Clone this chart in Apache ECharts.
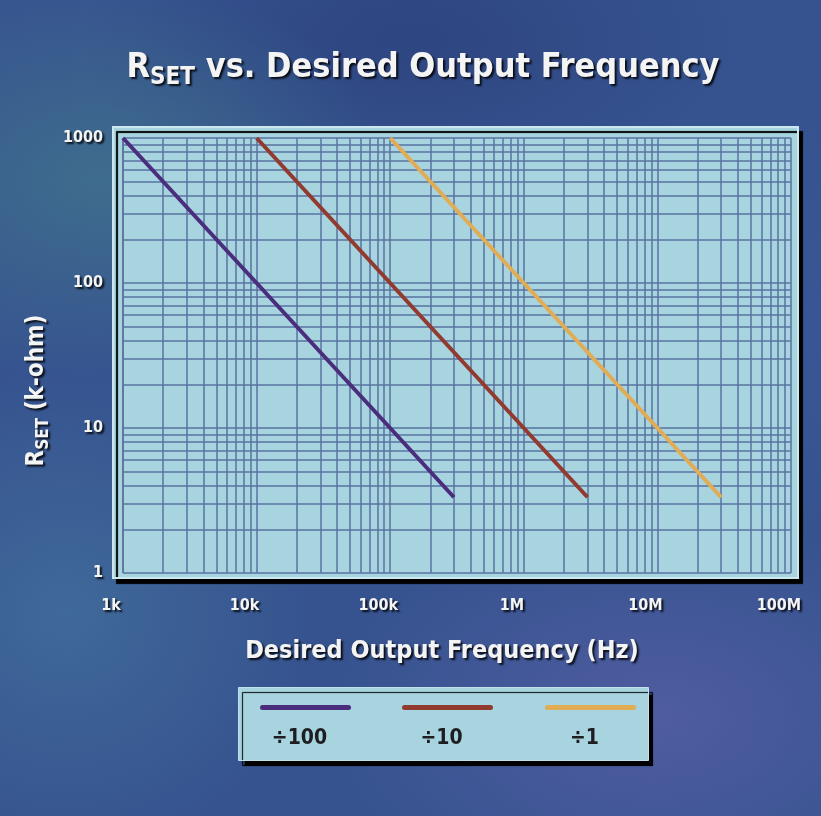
<!DOCTYPE html>
<html>
<head>
<meta charset="utf-8">
<script src="https://cdn.jsdelivr.net/npm/echarts@6/dist/echarts.min.js"></script>
<style>
  html, body { margin: 0; padding: 0; }
  body {
    width: 821px; height: 816px; overflow: hidden;
    background:
      radial-gradient(ellipse 35% 25% at 12% 22%, rgba(70,130,140,0.55), transparent),
      radial-gradient(ellipse 30% 30% at 8% 75%, rgba(70,120,160,0.6), transparent),
      radial-gradient(ellipse 40% 25% at 80% 88%, rgba(100,100,175,0.55), transparent),
      radial-gradient(ellipse 30% 30% at 90% 40%, rgba(60,90,160,0.5), transparent),
      radial-gradient(ellipse 40% 20% at 50% 5%, rgba(40,60,120,0.6), transparent),
      #36538f;
  }
  #main { width: 821px; height: 816px; }
</style>
</head>
<body>
<div id="main"></div>
<script>
// axis ticks
var xTicks = [1e3, 1e4, 1e5, 1e6, 1e7, 1e8];
var xTickLabels = ['1k', '10k', '100k', '1M', '10M', '100M'];
var yTicks = [1, 10, 100, 1000];
var yTickLabels = ['1', '10', '100', '1000'];

// series: [frequency Hz, Rset k-ohm]
var seriesNames = ['÷100', '÷10', '÷1'];
var seriesColors = ['#4b2d7d', '#923a2f', '#e2ac55'];
var div100 = [[1000, 1000], [300000, 3.33]];
var div10 = [[10000, 1000], [3000000, 3.33]];
var div1 = [[100000, 1000], [30000000, 3.33]];

var FF = "'Liberation Sans Narrow','DejaVu Sans Condensed',sans-serif";
var GRID_COLOR = '#5873a0';

// minor grid lines 2..9 in every decade
function minorLines(ticks, key) {
    var out = [];
    for (var i = 0; i < ticks.length - 1; i++) {
        for (var k = 2; k <= 9; k++) {
            var o = {};
            o[key] = ticks[i] * k;
            out.push(o);
        }
    }
    return out;
}

function lbl(v, ticks, labels) {
    for (var i = 0; i < ticks.length; i++) {
        if (Math.abs(Math.log10(v) - Math.log10(ticks[i])) < 1e-6) return labels[i];
    }
    return '';
}

var shadowText = {
    color: '#f4f4f4',
    fontFamily: FF,
    fontWeight: 'bold',
    textShadowColor: 'rgba(0,0,0,0.85)',
    textShadowOffsetX: 2,
    textShadowOffsetY: 2,
    textShadowBlur: 2
};

var chart = echarts.init(document.getElementById('main'), null, { renderer: 'canvas' });

var option = {
    animation: false,
    backgroundColor: 'transparent',
    title: {
        left: 423,
        top: 51,
        textAlign: 'center',
        padding: 0,
        text: '{r|R}{s|SET}{t| vs. Desired Output Frequency}',
        textStyle: {
            rich: {
                r: Object.assign({}, shadowText, { fontSize: 34, verticalAlign: 'bottom', padding: [0, 0, 5, 0] }),
                s: Object.assign({}, shadowText, { fontSize: 24, verticalAlign: 'bottom' }),
                t: Object.assign({}, shadowText, { fontSize: 34, verticalAlign: 'bottom', padding: [0, 0, 5, 0] })
            }
        }
    },
    grid: {
        left: 123,
        top: 138,
        right: 30,
        bottom: 243
    },
    graphic: [
        {
            type: 'rect',
            z: -10,
            shape: { x: 113, y: 127, width: 685, height: 451 },
            style: {
                fill: '#a7d4df',
                stroke: '#cbe8ef',
                lineWidth: 2,
                shadowColor: '#000',
                shadowOffsetX: 4,
                shadowOffsetY: 5,
                shadowBlur: 1
            }
        },
        {
            type: 'group',
            left: 238,
            top: 687,
            children: [
                {
                    type: 'rect',
                    shape: { x: 0, y: 0, width: 410, height: 73 },
                    style: {
                        fill: '#a7d4df',
                        stroke: '#bfe2ea',
                        lineWidth: 1,
                        shadowColor: '#000',
                        shadowOffsetX: 4,
                        shadowOffsetY: 5,
                        shadowBlur: 1
                    }
                }
            ].concat(seriesNames.map(function (name, i) {
                var cx = [67, 209, 352][i];
                return {
                    type: 'group',
                    children: [
                        {
                            type: 'line',
                            shape: { x1: cx - 43, y1: 20, x2: cx + 43, y2: 20 },
                            style: { stroke: seriesColors[i], lineWidth: 5, lineCap: 'round' }
                        },
                        {
                            type: 'text',
                            style: {
                                x: cx - 6, y: 51,
                                text: name,
                                align: 'center',
                                verticalAlign: 'middle',
                                fill: '#1e1e22',
                                font: 'bold 21px ' + FF
                            }
                        }
                    ]
                };
            }))
        }
    ],
    xAxis: {
        type: 'log',
        logBase: 10,
        min: 1e3,
        max: 1e8,
        name: 'Desired Output Frequency (Hz)',
        nameLocation: 'middle',
        nameGap: 66,
        nameTextStyle: Object.assign({}, shadowText, { fontSize: 25, padding: [0, 30, 0, 0] }),
        axisLine: { show: false },
        axisTick: { show: false },
        axisLabel: Object.assign({}, shadowText, {
            fontSize: 16,
            margin: 25,
            padding: [0, 24, 0, 0],
            formatter: function (v) { return lbl(v, xTicks, xTickLabels); }
        }),
        splitLine: { show: true, lineStyle: { color: GRID_COLOR, width: 1.5 } }
    },
    yAxis: {
        type: 'log',
        logBase: 10,
        min: 1,
        max: 1000,
        name: '{r|R}{s|SET}{t| (k-ohm)}',
        nameLocation: 'middle',
        nameRotate: 90,
        nameGap: 65,
        nameTextStyle: {
            padding: [0, 70, 0, 0],
            rich: {
                r: Object.assign({}, shadowText, { fontSize: 24, verticalAlign: 'bottom', padding: [0, 0, 3, 0] }),
                s: Object.assign({}, shadowText, { fontSize: 17, verticalAlign: 'bottom' }),
                t: Object.assign({}, shadowText, { fontSize: 24, verticalAlign: 'bottom', padding: [0, 0, 3, 0] })
            }
        },
        axisLine: { show: false },
        axisTick: { show: false },
        axisLabel: Object.assign({}, shadowText, {
            fontSize: 16,
            margin: 20,
            formatter: function (v) { return lbl(v, yTicks, yTickLabels); }
        }),
        splitLine: { show: true, lineStyle: { color: GRID_COLOR, width: 1.5 } }
    },
    series: [
        {
            name: 'grid',
            type: 'line',
            z: 1,
            silent: true,
            data: [],
            markLine: {
                silent: true,
                symbol: ['none', 'none'],
                label: { show: false },
                lineStyle: { color: GRID_COLOR, width: 1.5, type: 'solid' },
                emphasis: { disabled: true },
                data: minorLines(xTicks, 'xAxis').concat(minorLines(yTicks, 'yAxis'))
            }
        },
        {
            name: seriesNames[0], type: 'line', z: 5, data: div100, showSymbol: false,
            lineStyle: { color: seriesColors[0], width: 4 }
        },
        {
            name: seriesNames[1], type: 'line', z: 5, data: div10, showSymbol: false,
            lineStyle: { color: seriesColors[1], width: 4 }
        },
        {
            name: seriesNames[2], type: 'line', z: 5, data: div1, showSymbol: false,
            lineStyle: { color: seriesColors[2], width: 4 }
        }
    ]
};

chart.setOption(option);
</script>
</body>
</html>
